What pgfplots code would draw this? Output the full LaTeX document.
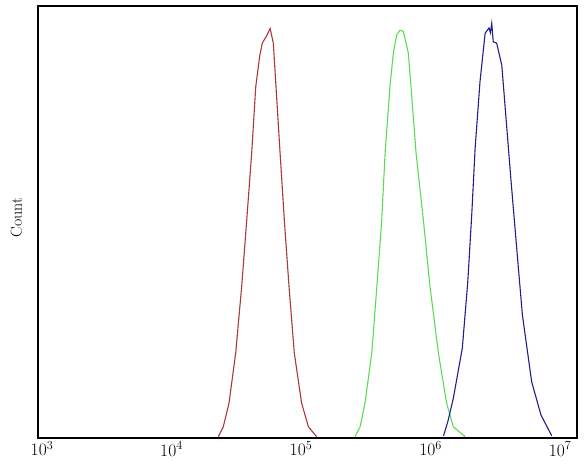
\documentclass[border=0pt]{standalone}
\usepackage{fontspec}
\usepackage{pgfplots}
\pgfplotsset{compat=1.18}
\definecolor{cred}{RGB}{170,55,60}
\definecolor{cgreen}{RGB}{90,220,80}
\definecolor{cblue}{RGB}{30,30,140}
\begin{document}
\begin{tikzpicture}
\path[use as bounding box] (-38pt,-30pt) rectangle (549pt,438pt);
\begin{axis}[
  at={(0,0)}, anchor=south west,
  scale only axis, width=539pt, height=432pt,
  xmode=log, xmin=931, xmax=1.352e7, ymin=0, ymax=100,
  xtick={1e3,1e4,1e5,1e6,1e7},
  xticklabels={10\textsuperscript{3},10\textsuperscript{4},10\textsuperscript{5},10\textsuperscript{6},10\textsuperscript{7}},
  ytick=\empty,
  major tick length=0pt, minor tick length=0pt,
  axis line style={line width=1.6pt},
  tick label style={font=\fontsize{17.5}{20}\selectfont},
  xticklabel style={yshift=0pt},
  ylabel={Count},
  ylabel style={font=\fontsize{16}{18}\selectfont, anchor=center, at={(axis description cs:-0.04,0.51)}},
  clip=true,
]
\addplot[cred, line width=1.1pt] coordinates {
(2.30e4,0.3) (2.51e4,2.6) (2.78e4,8.1) (3.13e4,19.7) (3.48e4,35.0) (3.81e4,50.5)
(4.16e4,66.0) (4.47e4,81.3) (4.80e4,88.5) (5.02e4,91.4) (5.40e4,93.0) (5.77e4,94.8)
(6.11e4,91.4) (6.41e4,81.3) (6.89e4,66.0) (7.43e4,50.5) (8.08e4,35.0)
(8.87e4,19.7) (1.01e5,8.1) (1.14e5,2.6) (1.32e5,0.3)
};
\addplot[cgreen, line width=1.1pt] coordinates {
(2.61e5,0.3) (2.86e5,2.6) (3.12e5,8.1) (3.52e5,19.7) (3.85e5,35.0) (4.20e5,50.5)
(4.46e5,66.0) (4.86e5,81.3) (5.16e5,89.1) (5.48e5,93.3) (5.81e5,94.4) (6.17e5,94.1)
(6.74e5,89.1) (7.07e5,81.3) (7.73e5,66.0) (8.80e5,50.5) (9.91e5,35.0)
(1.15e6,19.7) (1.33e6,8.1) (1.50e6,2.6) (1.85e6,0.3)
};
\addplot[cblue, line width=1.1pt] coordinates {
(1.26e6,0.5) (1.36e6,3.8) (1.50e6,9.2) (1.76e6,20.8) (1.94e6,36.2) (2.08e6,51.6)
(2.21e6,67.1) (2.41e6,82.5) (2.64e6,93.7) (2.83e6,94.9) (2.90e6,93.8) (2.97e6,96.0)
(3.05e6,91.7) (3.24e6,91.4) (3.55e6,86.3) (3.81e6,74.8) (4.19e6,59.3)
(4.63e6,43.9) (5.12e6,28.5) (6.04e6,13.0) (7.13e6,5.3) (8.63e6,0.5)
};
\end{axis}
\end{tikzpicture}
\end{document}
